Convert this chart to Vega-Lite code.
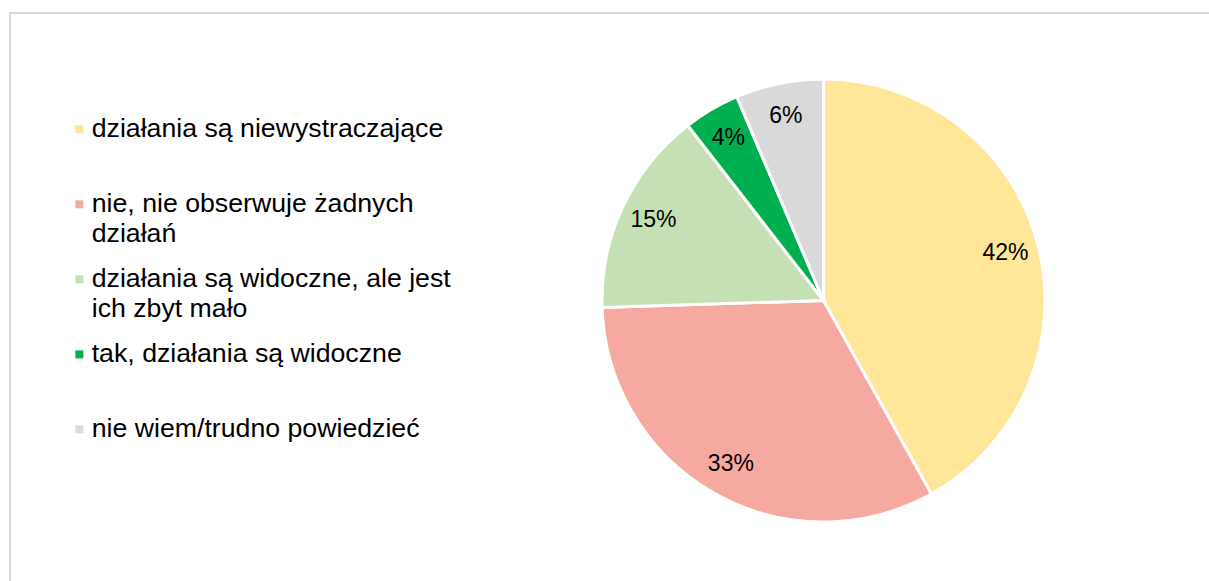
{
  "$schema": "https://vega.github.io/schema/vega-lite/v6.json",
  "width": 1627,
  "height": 575,
  "autosize": {"type": "none"},
  "padding": {"left": 10, "top": 13, "right": -428, "bottom": -7},
  "background": "white",
  "view": {"stroke": "#d9d9d9", "strokeWidth": 2, "fill": "white"},
  "config": {
    "view": {"stroke": "#d9d9d9", "strokeWidth": 2},
    "font": "Liberation Sans",
    "style": {"guide-label": {"lineHeight": 30}}
  },
  "data": {
    "values": [
      {"category": "działania są niewystraczające", "share": 0.419},
      {"category": "nie, nie obserwuje żadnych działań", "share": 0.326},
      {"category": "działania są widoczne, ale jest ich zbyt mało", "share": 0.150},
      {"category": "tak, działania są widoczne", "share": 0.041},
      {"category": "nie wiem/trudno powiedzieć", "share": 0.064}
    ]
  },
  "transform": [{"window": [{"op": "row_number", "as": "slice_order"}]}],
  "encoding": {
    "theta": {"field": "share", "type": "quantitative", "stack": true},
    "order": {"field": "slice_order", "type": "quantitative"}
  },
  "layer": [
    {
      "mark": {"type": "arc", "outerRadius": 221.5, "stroke": "white", "strokeWidth": 3},
      "encoding": {
        "color": {
          "field": "category",
          "type": "nominal",
          "sort": null,
          "scale": {
            "domain": [
              "działania są niewystraczające",
              "nie, nie obserwuje żadnych działań",
              "działania są widoczne, ale jest ich zbyt mało",
              "tak, działania są widoczne",
              "nie wiem/trudno powiedzieć"
            ],
            "range": ["#FFE699", "#F6A9A0", "#C5E0B4", "#00B050", "#D9D9D9"]
          },
          "legend": {
            "title": null,
            "orient": "none",
            "legendX": 56,
            "legendY": 103,
            "padding": 0,
            "symbolType": "square",
            "symbolSize": 64,
            "symbolStrokeWidth": 0,
            "symbolOpacity": 1,
            "labelFontSize": 26.7,
            "labelFont": "Liberation Sans",
            "labelColor": "#000000",
            "labelLimit": 800,
            "labelOffset": -1,
            "labelBaseline": "middle",
            "gridAlign": "all",
            "rowPadding": 17,
            "labelExpr": "datum.label === 'nie, nie obserwuje żadnych działań' ? ['nie, nie obserwuje żadnych', 'działań'] : datum.label === 'działania są widoczne, ale jest ich zbyt mało' ? ['działania są widoczne, ale jest', 'ich zbyt mało'] : datum.label"
          }
        }
      }
    },
    {
      "mark": {"type": "text", "radius": 188, "fontSize": 23, "font": "Liberation Sans", "color": "#000000"},
      "encoding": {
        "detail": {"field": "category", "type": "nominal"},
        "text": {"field": "share", "type": "quantitative", "format": ".0%"}
      }
    }
  ]
}
